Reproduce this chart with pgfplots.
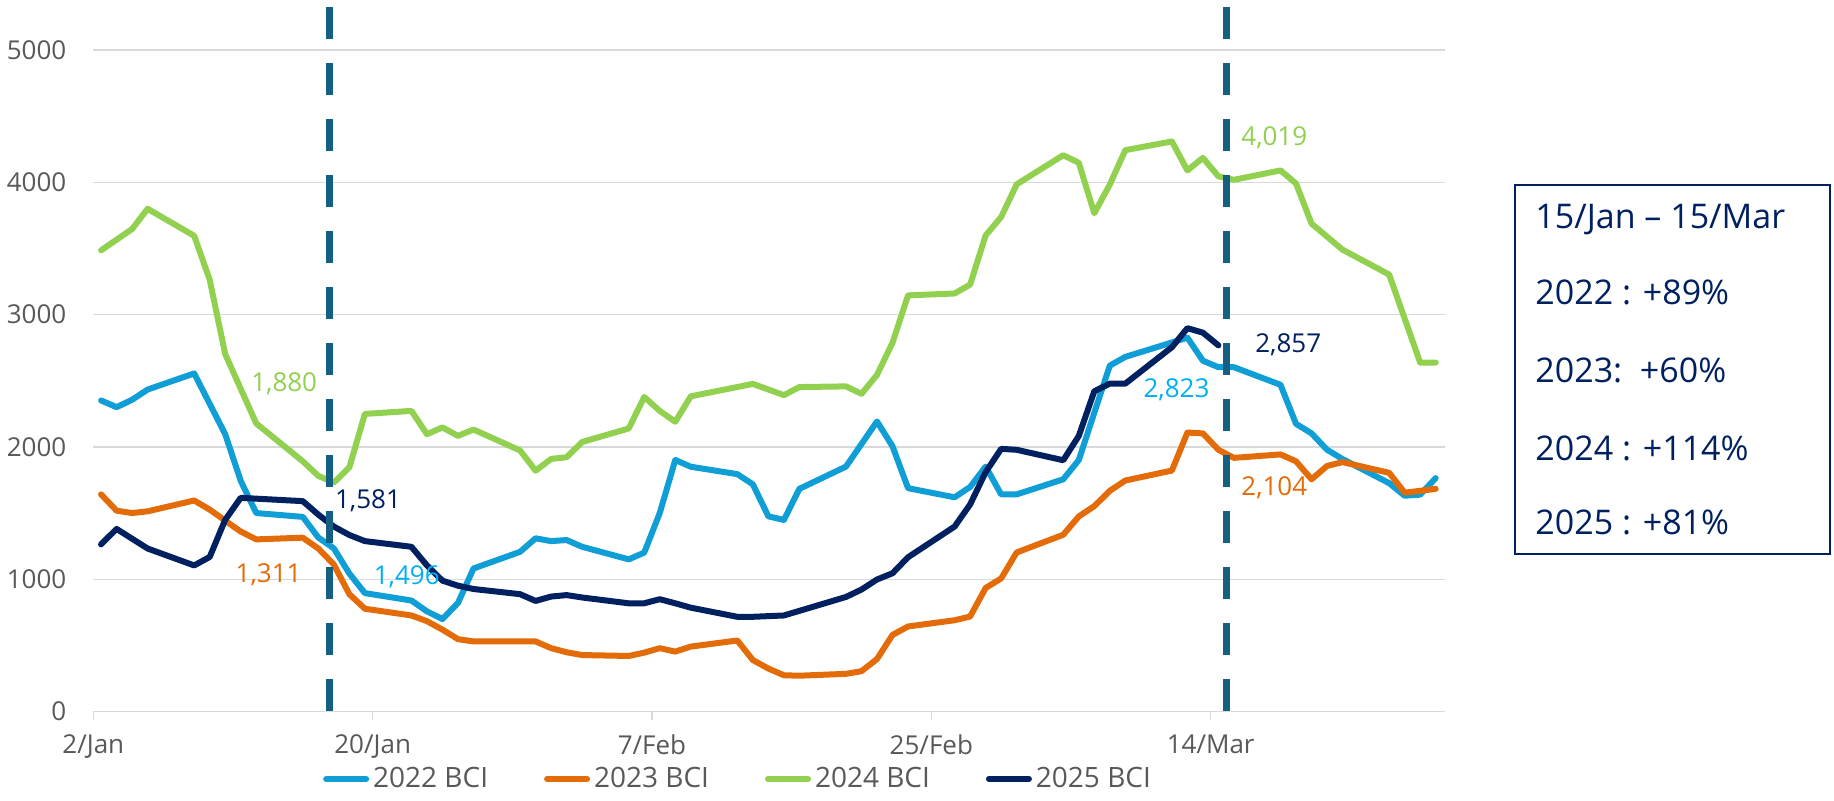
\documentclass[border=0pt]{standalone}
\usepackage{fontspec}
\setmainfont{Open Sans}
\usepackage{pgfplots}
\pgfplotsset{compat=1.18}
\definecolor{c22}{HTML}{0F9ED5}
\definecolor{c23}{HTML}{E36C09}
\definecolor{c24}{HTML}{92D050}
\definecolor{c25}{HTML}{002060}
\definecolor{cyanlab}{HTML}{00B0F0}
\definecolor{dashc}{HTML}{156082}
\definecolor{gridc}{HTML}{D9D9D9}
\definecolor{txt}{HTML}{595959}
\begin{document}
\begin{tikzpicture}
\path[use as bounding box] (0pt,0pt) rectangle (917pt,400.5pt);
\begin{axis}[
  at={(46.65pt,44.65pt)}, anchor=south west,
  scale only axis, width=675.85pt, height=330.85pt,
  xmin=-0.5, xmax=86.6, ymin=0, ymax=5000,
  axis x line*=bottom, axis y line*=left,
  x axis line style={draw=gridc, line width=0.75pt},
  y axis line style={draw=none},
  ytick={0,1000,...,5000}, ymajorgrids,
  major grid style={draw=gridc, line width=0.75pt},
  xtick={-0.5,17.5,35.5,53.5,71.5},
  xticklabels={2/Jan,20/Jan,7/Feb,25/Feb,14/Mar},
  x tick style={draw=gridc, line width=0.75pt},
  y tick style={draw=none},
  major tick length=4pt, tick align=outside,
  tick label style={font=\fontsize{13}{15}\selectfont, text=txt},
  yticklabel style={xshift=-6pt},
  xticklabel style={yshift=-4pt},
  /pgf/number format/.cd, 1000 sep={}, assume math mode=true, /pgfplots/.cd,
  clip=false,
  legend style={at={(0.4777,-0.1017)}, anchor=center, draw=none, fill=none,
    legend columns=4, font=\fontsize{14}{16}\selectfont, text=txt,
    /tikz/every even column/.append style={column sep=26pt},
    /tikz/every odd column/.append style={column sep=0pt}},
  legend image code/.code={\draw[#1, line width=3pt, line cap=round] (0pt,0pt) -- (20pt,0pt);},
  every axis plot/.append style={line width=3pt, line join=round, line cap=round},
]
\addplot[c22] coordinates {(0,2352)(1,2301)(2,2357)(3,2434)(6,2556)(8,2097)(9,1744)(10,1501)(13,1472)(14,1316)(15,1234)(16,1044)(17,896)(20,840)(21,758)(22,700)(23,822)(24,1082)(27,1208)(28,1310)(29,1289)(30,1297)(31,1246)(34,1151)(35,1202)(36,1501)(37,1902)(38,1851)(41,1795)(42,1718)(43,1476)(44,1449)(45,1684)(48,1852)(50,2193)(51,2005)(52,1689)(55,1620)(56,1698)(57,1852)(58,1642)(59,1642)(62,1756)(63,1901)(65,2615)(66,2681)(70,2826)(71,2652)(72,2603)(73,2603)(76,2470)(77,2175)(78,2103)(79,1979)(80,1909)(83,1727)(84,1632)(85,1640)(86,1765)};
\addlegendentry{2022 BCI}
\addplot[c23] coordinates {(0,1642)(1,1519)(2,1501)(3,1514)(6,1596)(7,1527)(9,1361)(10,1302)(13,1315)(14,1233)(15,1112)(16,888)(17,778)(20,727)(21,684)(22,620)(23,548)(24,531)(28,531)(29,480)(30,449)(31,428)(34,421)(35,446)(36,480)(37,454)(38,492)(41,538)(42,390)(43,326)(44,275)(45,272)(48,286)(49,306)(50,398)(51,580)(52,644)(55,691)(56,719)(57,935)(58,1007)(59,1203)(62,1337)(63,1475)(64,1553)(65,1669)(66,1747)(69,1822)(70,2109)(71,2103)(72,1979)(73,1918)(76,1944)(77,1892)(78,1756)(79,1857)(80,1886)(83,1805)(84,1655)(85,1669)(86,1684)};
\addlegendentry{2023 BCI}
\addplot[c24] coordinates {(0,3486)(2,3647)(3,3800)(6,3596)(7,3264)(8,2702)(10,2178)(13,1892)(14,1782)(15,1731)(16,1846)(17,2250)(20,2273)(21,2097)(22,2148)(23,2084)(24,2132)(27,1974)(28,1821)(29,1910)(30,1923)(31,2038)(34,2140)(35,2378)(36,2273)(37,2191)(38,2383)(42,2477)(44,2392)(45,2453)(48,2458)(49,2402)(50,2545)(51,2788)(52,3146)(55,3160)(56,3227)(57,3599)(58,3738)(59,3985)(62,4205)(63,4148)(64,3766)(65,3983)(66,4243)(69,4309)(70,4090)(71,4185)(72,4045)(73,4019)(76,4090)(77,3991)(78,3688)(80,3491)(83,3303)(85,2638)(86,2638)};
\addlegendentry{2024 BCI}
\addplot[c25] coordinates {(0,1264)(1,1381)(3,1233)(6,1105)(7,1169)(8,1450)(9,1616)(13,1591)(14,1489)(15,1399)(16,1335)(17,1289)(20,1246)(21,1105)(22,990)(23,952)(24,927)(27,888)(28,837)(29,870)(30,881)(31,863)(34,819)(35,819)(36,850)(37,819)(38,786)(41,717)(42,717)(44,727)(48,867)(49,923)(50,999)(51,1046)(52,1167)(55,1399)(56,1566)(57,1810)(58,1986)(59,1979)(62,1900)(63,2083)(64,2421)(65,2479)(66,2479)(69,2754)(70,2898)(71,2864)(72,2768)};
\addlegendentry{2025 BCI}
\addplot[dashc, line width=3.5pt, line cap=butt, dash pattern=on 16pt off 12pt, forget plot] coordinates {(14.7,5325)(14.7,0)};
\addplot[dashc, line width=3.5pt, line cap=butt, dash pattern=on 16pt off 12pt, forget plot] coordinates {(72.5,5325)(72.5,0)};
\begin{scope}[every node/.style={font=\fontsize{13}{15}\selectfont, inner sep=0pt}]
\node[text=c24] at (axis cs:11.8,2480) {1,880};
\node[text=c23] at (axis cs:10.8,1038) {1,311};
\node[text=c25] at (axis cs:17.2,1595) {1,581};
\node[text=cyanlab] at (axis cs:19.7,1021) {1,496};
\node[text=c24] at (axis cs:75.6,4335) {4,019};
\node[text=c25] at (axis cs:76.5,2771) {2,857};
\node[text=cyanlab] at (axis cs:69.3,2435) {2,823};
\node[text=c23] at (axis cs:75.6,1693) {2,104};
\end{scope}
\end{axis}
\draw[c25, line width=1pt] (757.5pt,123.5pt) rectangle (915pt,308pt);
\begin{scope}[every node/.style={font=\fontsize{17}{20}\selectfont, text=c25, inner sep=0pt, anchor=base west}]
\node at (767.5pt,286.4pt) {15/Jan – 15/Mar};
\node at (767.5pt,248.4pt) {2022 : +89\%};
\node at (767.5pt,209.4pt) {2023:\ \ +60\%};
\node at (767.5pt,170.4pt) {2024 : +114\%};
\node at (767.5pt,133.4pt) {2025 : +81\%};
\end{scope}
\end{tikzpicture}
\end{document}
